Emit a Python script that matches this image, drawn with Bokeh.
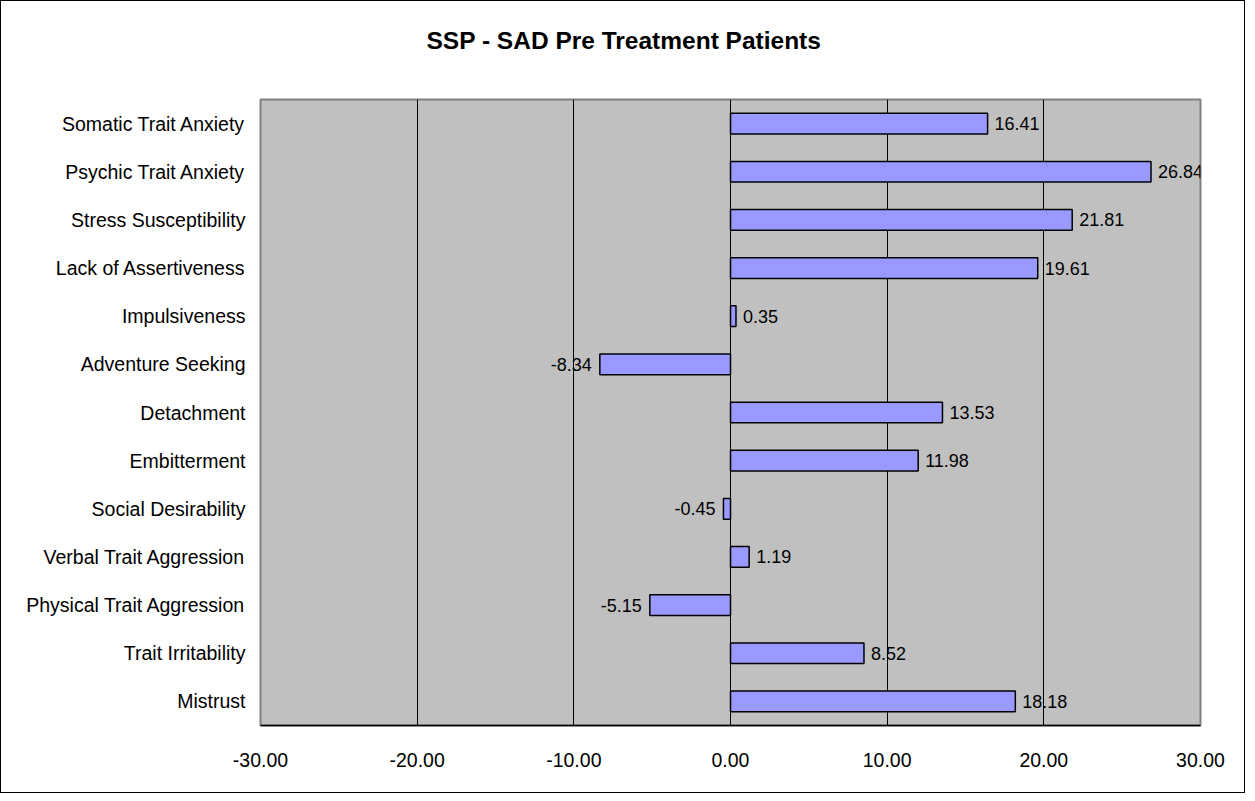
from bokeh.plotting import figure
from bokeh.models import (ColumnDataSource, FactorRange, FixedTicker, CustomJSTickFormatter,
                          Title, LabelSet)
from bokeh.core.properties import value
from bokeh.embed import file_html
from bokeh.resources import INLINE

categories = ["Somatic Trait Anxiety", "Psychic Trait Anxiety", "Stress Susceptibility",
              "Lack of Assertiveness", "Impulsiveness", "Adventure Seeking", "Detachment",
              "Embitterment", "Social Desirability", "Verbal Trait Aggression",
              "Physical Trait Aggression", "Trait Irritability", "Mistrust"]
scores = [16.41, 26.84, 21.81, 19.61, 0.35, -8.34, 13.53, 11.98, -0.45, 1.19, -5.15, 8.52, 18.18]
x_ticks = [-30, -20, -10, 0, 10, 20, 30]
title_text = "SSP - SAD Pre Treatment Patients"

FONT = "Liberation Sans"

p = figure(width=1245, height=793, output_backend="svg", toolbar_location=None,
           y_range=FactorRange(factors=list(reversed(categories)), range_padding=0),
           x_range=(-30, 30), title=None,
           min_border_left=259, min_border_right=46, min_border_top=98, min_border_bottom=69)
p.styles = {"border": "1px solid black", "box-sizing": "border-box"}

# spacer between frame and title, then the title itself
p.add_layout(Title(text=" ", text_font_size="20px", standoff=22), "above")
p.add_layout(Title(text=title_text, align="left", offset=166, standoff=0,
                   text_font=FONT, text_font_size="24.5px", text_font_style="bold",
                   text_color="black"), "above")

p.background_fill_color = "#C0C0C0"
p.border_fill_color = "white"
p.outline_line_color = "#808080"
p.outline_line_width = 2

src = ColumnDataSource(dict(cat=categories, val=scores))
p.hbar(y="cat", right="val", left=0, height=0.43, source=src,
       fill_color="#9999FF", line_color="black", line_width=1.5)

pos = ColumnDataSource(dict(cat=[c for c, v in zip(categories, scores) if v >= 0],
                            val=[v for v in scores if v >= 0],
                            lab=["%.2f" % v for v in scores if v >= 0]))
neg = ColumnDataSource(dict(cat=[c for c, v in zip(categories, scores) if v < 0],
                            val=[v for v in scores if v < 0],
                            lab=["%.2f" % v for v in scores if v < 0]))
p.add_layout(LabelSet(x="val", y="cat", text="lab", source=pos, x_offset=7, text_align="left",
                      text_baseline="middle", text_font=value(FONT), text_font_size="18px",
                      text_color="black"))
p.add_layout(LabelSet(x="val", y="cat", text="lab", source=neg, x_offset=-8, text_align="right",
                      text_baseline="middle", text_font=value(FONT), text_font_size="18px",
                      text_color="black"))

# x axis
p.xaxis.ticker = FixedTicker(ticks=x_ticks)
p.xaxis.formatter = CustomJSTickFormatter(code="return tick.toFixed(2);")
p.xaxis.major_tick_line_color = None
p.xaxis.minor_tick_line_color = None
p.xaxis.axis_line_color = "black"
p.xaxis.axis_line_width = 1.5
p.xaxis.major_label_standoff = 21
p.xaxis.major_label_text_font = FONT
p.xaxis.major_label_text_font_size = "19.5px"
p.xaxis.major_label_text_color = "black"

# y axis
p.yaxis.major_tick_line_color = None
p.yaxis.minor_tick_line_color = None
p.yaxis.axis_line_color = None
p.yaxis.major_label_standoff = 9
p.yaxis.major_label_text_font = FONT
p.yaxis.major_label_text_font_size = "19.5px"
p.yaxis.major_label_text_color = "black"

p.xgrid.ticker = FixedTicker(ticks=[-20, -10, 0, 10, 20])
p.xgrid.grid_line_color = "black"
p.xgrid.grid_line_width = 1
p.ygrid.grid_line_color = None

open("out.html", "w").write(file_html(p, INLINE))
